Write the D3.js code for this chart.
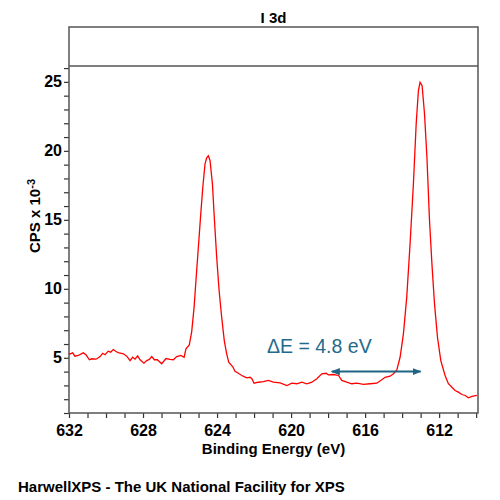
<!DOCTYPE HTML>
<head>
    <script src="https://cdn.jsdelivr.net/npm/d3@7/dist/d3.min.js"></script>
</head>

<body style="margin:0">
    <svg width="500" height="500"></svg>
</body>

<style>
text { font-family: "Liberation Sans", Arial, sans-serif; }
.axis text { font-size: 16px; font-weight: bold; fill: #000; }
.axis line { stroke: #333; stroke-width: 1.2; }
.axis path { display: none; }
</style>

<script>
    // binding energy (eV) and counts (CPS x 10^-3)
    var be = [632.00, 631.80, 631.68, 631.50, 631.23, 631.08, 630.90, 630.77, 630.54, 630.32,
              630.18, 630.05, 629.88, 629.75, 629.61, 629.46, 629.34, 629.06, 628.88, 628.70,
              628.56, 628.43, 628.29, 628.16, 627.95, 627.80, 627.66, 627.53, 627.39, 627.23,
              626.99, 626.76, 626.54, 626.36, 626.18, 625.96, 625.78, 625.68, 625.50, 625.37,
              625.24, 625.14, 625.01, 624.88, 624.77, 624.65, 624.56, 624.47, 624.38, 624.25,
              624.15, 624.02, 623.89, 623.75, 623.61, 623.48, 623.37, 623.15, 623.03, 622.85,
              622.66, 622.54, 622.39, 622.22, 622.12, 622.00, 621.77, 621.50, 621.23, 620.96,
              620.59, 620.23, 619.96, 619.69, 619.42, 619.15, 618.88, 618.61, 618.34, 618.11,
              617.98, 617.71, 617.44, 617.26, 616.99, 616.72, 616.45, 616.09, 615.73, 615.37,
              615.10, 614.92, 614.65, 614.47, 614.29, 614.11, 613.93, 613.75, 613.57, 613.39,
              613.24, 613.12, 613.03, 612.92, 612.79, 612.66, 612.52, 612.39, 612.25, 612.09,
              611.91, 611.68, 611.50, 611.31, 611.14, 610.96, 610.77, 610.59, 610.42, 610.23,
              609.96];
    var cps = [5.25, 5.36, 5.12, 5.17, 5.36, 5.22, 4.86, 4.93, 4.90, 5.09,
               5.33, 5.22, 5.48, 5.41, 5.60, 5.46, 5.38, 5.29, 5.12, 4.80,
               5.04, 4.90, 5.14, 4.86, 4.61, 4.80, 4.88, 5.09, 4.86, 4.86,
               4.57, 4.95, 4.88, 4.86, 5.09, 5.17, 5.04, 5.65, 5.93, 6.90,
               8.67, 10.60, 13.01, 15.43, 17.36, 19.06, 19.49, 19.64, 19.30, 17.61,
               15.19, 12.29, 9.88, 7.94, 6.25, 5.29, 4.68, 4.35, 4.03, 3.88,
               3.72, 3.64, 3.55, 3.59, 3.48, 3.16, 3.23, 3.28, 3.36, 3.23,
               3.19, 2.99, 3.16, 3.12, 3.23, 3.12, 3.23, 3.48, 3.84, 3.88,
               3.77, 3.79, 3.72, 3.36, 3.23, 3.12, 3.16, 3.07, 3.12, 3.16,
               3.41, 3.59, 3.67, 3.84, 4.10, 5.04, 6.74, 9.40, 13.26, 17.61,
               21.96, 24.37, 24.97, 24.73, 22.68, 19.54, 14.95, 11.81, 8.91, 6.49,
               4.80, 3.72, 3.12, 2.87, 2.63, 2.51, 2.34, 2.27, 2.10, 2.20,
               2.27];

    var xTickLabels = [632, 628, 624, 620, 616, 612];
    var yTickLabels = [5, 10, 15, 20, 25];

    // splitting annotation (eV)
    var splitFrom = 617.8, splitTo = 613.0, splitLevel = 4.0;
    var splitText = "\u0394E = 4.8 eV";

    var svg = d3.select("svg");
    var mLeft = 69, mRight = 478, mTop = 66, mBottom = 413, headTop = 27;

    var x = d3.scaleLinear().domain([632, 609.9]).range([mLeft, mRight]);
    var y = d3.scaleLinear().domain([1, 26.15]).range([mBottom, mTop]);

    var data = be.map(function(d, i) { return {e: d, c: cps[i]}; });

    // axes, minor ticks every 1, labels only on the majors
    svg.append("g")
        .attr("class", "axis")
        .attr("transform", "translate(0," + mBottom + ")")
        .call(d3.axisBottom(x)
            .tickValues(d3.range(610, 633))
            .tickSize(5).tickSizeOuter(0).tickPadding(7)
            .tickFormat(function(d) { return xTickLabels.indexOf(d) >= 0 ? d : ""; }));

    svg.append("g")
        .attr("class", "axis")
        .attr("transform", "translate(" + mLeft + ",0)")
        .call(d3.axisLeft(y)
            .tickValues(d3.range(1, 27))
            .tickSize(5).tickSizeOuter(0).tickPadding(2)
            .tickFormat(function(d) { return yTickLabels.indexOf(d) >= 0 ? d : ""; }));

    // frame + header band
    svg.append("rect")
        .attr("x", mLeft).attr("y", headTop)
        .attr("width", mRight - mLeft).attr("height", mBottom - headTop)
        .attr("fill", "none").attr("stroke", "#555").attr("stroke-width", 1.5);
    svg.append("line")
        .attr("x1", mLeft).attr("x2", mRight).attr("y1", mTop).attr("y2", mTop)
        .attr("stroke", "#555").attr("stroke-width", 1.5);

    svg.append("path")
        .datum(data)
        .attr("fill", "none")
        .attr("stroke", "#ff0000")
        .attr("stroke-width", 1.3)
        .attr("d", d3.line()
            .x(function(d) { return x(d.e); })
            .y(function(d) { return y(d.c); }));

    // arrow
    var defs = svg.append("defs");
    ["a-end", "a-start"].forEach(function(id, i) {
        defs.append("marker")
            .attr("id", id)
            .attr("viewBox", "0 0 10 10")
            .attr("refX", 9).attr("refY", 5)
            .attr("markerWidth", 9).attr("markerHeight", 9)
            .attr("markerUnits", "userSpaceOnUse")
            .attr("orient", i == 0 ? "auto" : "auto-start-reverse")
          .append("path")
            .attr("d", "M0,1 L10,5 L0,9 Z")
            .attr("fill", "#1f6585");
    });
    svg.append("line")
        .attr("x1", x(splitFrom)).attr("x2", x(splitTo))
        .attr("y1", y(splitLevel)).attr("y2", y(splitLevel))
        .attr("stroke", "#1f6585").attr("stroke-width", 2)
        .attr("marker-start", "url(#a-start)")
        .attr("marker-end", "url(#a-end)");

    svg.append("text")
        .attr("x", x(621.3)).attr("y", y(5.33))
        .attr("font-size", "19.5px")
        .attr("fill", "#236a8c")
        .text(splitText);

    // titles
    svg.append("text")
        .attr("x", (mLeft + mRight) / 2).attr("y", 23)
        .attr("text-anchor", "middle")
        .attr("font-size", "15px").attr("font-weight", "bold")
        .text("I 3d");

    svg.append("text")
        .attr("x", (mLeft + mRight) / 2).attr("y", 454)
        .attr("text-anchor", "middle")
        .attr("font-size", "15px").attr("font-weight", "bold")
        .text("Binding Energy (eV)");

    var yl = svg.append("text")
        .attr("transform", "translate(40,216) rotate(-90)")
        .attr("text-anchor", "middle")
        .attr("font-size", "15px").attr("font-weight", "bold");
    yl.append("tspan").text("CPS x 10");
    yl.append("tspan").attr("dy", "-0.45em").attr("font-size", "11px").text("-3");

    svg.append("text")
        .attr("x", 18).attr("y", 492)
        .attr("font-size", "15px").attr("font-weight", "bold")
        .text("HarwellXPS - The UK National Facility for XPS");
</script>
